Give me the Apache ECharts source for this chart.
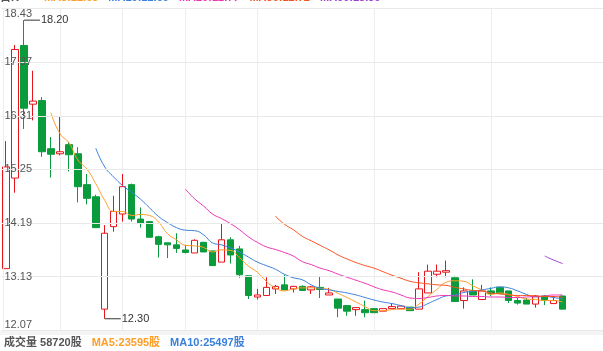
<!DOCTYPE html>
<html>
<head>
<meta charset="utf-8">
<script src="https://cdn.jsdelivr.net/npm/echarts@6/dist/echarts.min.js"></script>
<style>
  html, body { margin: 0; padding: 0; background: #fff; }
  #chart { width: 603px; height: 351px; }
</style>
</head>
<body>
<div id="chart"></div>
<script>
// day slots on the x axis (the last four are still empty)
const categories = ['1','2','3','4','5','6','7','8','9','10','11','12','13','14','15','16','17','18','19','20',
  '21','22','23','24','25','26','27','28','29','30','31','32','33','34','35','36','37','38','39','40',
  '41','42','43','44','45','46','47','48','49','50','51','52','53','54','55','56','57','58','59','60',
  '61','62','63','64','65','66','67'];

// [open, close, lowest, highest]
const ohlc = [
  [13.29, 15.30, 13.29, 15.81], [15.08, 17.62, 14.79, 17.71], [17.70, 16.46, 16.05, 18.20],
  [16.54, 16.60, 16.22, 17.20], [16.61, 15.60, 15.50, 16.68], [15.66, 15.55, 15.09, 15.89],
  [15.56, 15.60, 15.53, 16.29], [15.74, 15.54, 15.21, 15.79], [15.56, 14.91, 14.60, 15.69],
  [14.95, 14.68, 14.56, 15.16], [14.71, 14.10, 14.10, 14.75], [12.49, 13.99, 12.30, 14.15],
  [14.12, 14.42, 14.02, 14.73], [14.37, 14.91, 14.22, 15.16], [14.95, 14.27, 14.22, 14.97],
  [14.27, 14.19, 14.10, 14.50], [14.22, 13.91, 13.91, 14.22], [13.92, 13.77, 13.51, 13.94],
  [13.80, 13.76, 13.50, 13.80], [13.76, 13.69, 13.60, 13.99], [13.66, 13.61, 13.59, 13.76],
  [13.60, 13.85, 13.60, 13.87], [13.81, 13.62, 13.62, 13.82], [13.64, 13.35, 13.35, 13.64],
  [13.42, 13.86, 13.42, 14.19], [13.86, 13.56, 13.39, 13.91], [13.68, 13.17, 13.11, 13.74],
  [13.15, 12.76, 12.69, 13.15], [12.73, 12.77, 12.68, 12.89], [12.76, 12.92, 12.76, 13.12],
  [12.89, 12.94, 12.79, 12.97], [12.97, 12.87, 12.87, 13.17], [12.89, 12.94, 12.82, 12.95],
  [12.94, 12.86, 12.86, 12.96], [12.87, 12.93, 12.79, 12.95], [12.92, 12.88, 12.71, 13.14],
  [12.77, 12.81, 12.77, 12.91], [12.69, 12.51, 12.33, 12.69], [12.56, 12.45, 12.36, 12.56],
  [12.48, 12.52, 12.36, 12.53], [12.48, 12.42, 12.33, 12.66], [12.50, 12.42, 12.42, 12.50],
  [12.45, 12.50, 12.45, 12.50], [12.50, 12.54, 12.50, 12.61], [12.50, 12.55, 12.50, 12.55],
  [12.53, 12.46, 12.46, 12.53], [12.49, 12.89, 12.49, 13.22], [12.81, 13.24, 12.81, 13.37],
  [13.18, 13.24, 13.12, 13.37], [13.22, 13.25, 13.12, 13.45], [13.11, 12.64, 12.64, 13.15],
  [12.66, 12.85, 12.50, 12.92], [12.85, 12.77, 12.77, 13.08], [12.68, 12.85, 12.68, 12.97],
  [12.85, 12.80, 12.75, 12.92], [12.92, 12.80, 12.80, 12.93], [12.85, 12.66, 12.61, 12.85],
  [12.66, 12.61, 12.58, 12.72], [12.67, 12.59, 12.59, 12.71], [12.59, 12.75, 12.52, 12.77],
  [12.75, 12.67, 12.57, 12.77], [12.60, 12.66, 12.60, 12.75], [12.75, 12.49, 12.49, 12.75]
];

// moving averages, first value sits at day n+1
const ma5 = [16.37, 15.96, 15.78, 15.44, 15.26, 14.97, 14.64, 14.42, 14.42, 14.34, 14.36, 14.34, 14.21,
  13.98, 13.86, 13.75, 13.74, 13.71, 13.62, 13.66, 13.65, 13.51, 13.34, 13.22, 13.04, 12.91, 12.85,
  12.89, 12.91, 12.91, 12.90, 12.88, 12.80, 12.72, 12.63, 12.54, 12.46, 12.46, 12.48, 12.49, 12.49,
  12.59, 12.74, 12.88, 13.02, 13.05, 13.04, 12.95, 12.87, 12.78, 12.81, 12.78, 12.74, 12.69, 12.68,
  12.66, 12.66, 12.63];
const ma10 = [15.67, 15.30, 15.10, 14.93, 14.80, 14.66, 14.49, 14.32, 14.20, 14.10, 14.05, 14.04, 13.96,
  13.80, 13.76, 13.70, 13.62, 13.52, 13.42, 13.35, 13.28, 13.18, 13.11, 13.07, 12.97, 12.90, 12.87,
  12.84, 12.81, 12.77, 12.72, 12.67, 12.63, 12.60, 12.56, 12.52, 12.53, 12.60, 12.68, 12.75, 12.77,
  12.82, 12.84, 12.87, 12.90, 12.93, 12.91, 12.85, 12.78, 12.73, 12.74, 12.72, 12.69];
const ma20 = [14.86, 14.67, 14.53, 14.37, 14.28, 14.18, 14.06, 13.92, 13.81, 13.72, 13.67, 13.61, 13.54,
  13.43, 13.37, 13.30, 13.25, 13.18, 13.12, 13.06, 13.00, 12.93, 12.87, 12.83, 12.77, 12.71, 12.70,
  12.72, 12.75, 12.76, 12.75, 12.75, 12.74, 12.74, 12.73, 12.73, 12.72, 12.72, 12.73, 12.74, 12.75,
  12.77, 12.77];
const ma30 = [14.33, 14.17, 14.06, 13.93, 13.84, 13.75, 13.66, 13.56, 13.48, 13.41, 13.35, 13.30, 13.23,
  13.16, 13.10, 13.04, 13.01, 12.99, 12.97, 12.96, 12.92, 12.89, 12.86, 12.85, 12.81, 12.79, 12.77,
  12.76, 12.76, 12.75, 12.74, 12.74, 12.72];
const ma60 = [13.54, 13.46, 13.39];

const yTicks = [12.07, 13.13, 14.19, 15.25, 16.31, 17.37, 18.43];
const splitDays = [6, 13, 20, 28, 41, 54];

const volume = { last: 58720, ma5: 23595, ma10: 25497 };

const FONT = '"Liberation Sans", Arial, "Noto Sans CJK SC", sans-serif';
const C = {
  up: '#e8141b', down: '#0a9c3c',
  ma5: '#ff9d26', ma10: '#3a80dc', ma20: '#ee34b4', ma30: '#f8531f', ma60: '#9d3fce',
  text: '#555555', grid: '#e9e9e9'
};

// put '-' in front so each average starts on its own day
function lead(n, arr) {
  const out = [];
  for (let i = 0; i < n; i++) out.push('-');
  return out.concat(arr);
}

function maLine(name, data, n, color) {
  return {
    name: name,
    type: 'line',
    data: lead(n, data),
    smooth: true,
    symbol: 'none',
    lineStyle: { width: 1, color: color },
    itemStyle: { color: color },
    z: 3
  };
}

function rich(color) {
  return { color: color, fontSize: 11, fontFamily: FONT, lineHeight: 13 };
}

const last = (a) => a[a.length - 1].toFixed(2);

const chart = echarts.init(document.getElementById('chart'));

const option = {
  animation: false,
  title: [
    {
      left: 0, top: -11, padding: 0,
      text: '{g|日K}     {o|MA5:' + last(ma5) + '}  {b|MA10:' + last(ma10) + '}  {p|MA20:' + last(ma20) +
        '}  {r|MA30:' + last(ma30) + '}  {v|MA60:' + last(ma60) + '}',
      textStyle: {
        rich: { g: rich(C.text), o: rich(C.ma5), b: rich(C.ma10), p: rich(C.ma20), r: rich(C.ma30), v: rich(C.ma60) }
      }
    },
    {
      left: 4, top: 334, padding: 0,
      text: '{g|成交量 ' + volume.last + '股}  {o|MA5:' + volume.ma5 + '股}  {b|MA10:' + volume.ma10 + '股}',
      textStyle: { rich: { g: rich(C.text), o: rich(C.ma5), b: rich(C.ma10) } }
    }
  ],
  graphic: [
    {
      type: 'rect', silent: true, z: -10,
      shape: { x: 0, y: 331, width: 603, height: 4 },
      style: { fill: '#f4f4f4' }
    }
  ],
  grid: { left: 1.5, right: -1.5, top: 8.5, bottom: 20.6 },
  xAxis: {
    type: 'category',
    data: categories,
    boundaryGap: true,
    axisLine: { show: false },
    axisTick: { show: false },
    axisLabel: { show: false },
    splitLine: {
      show: true,
      alignWithLabel: true,
      interval: (i) => splitDays.indexOf(i) >= 0,
      lineStyle: { color: '#ededed', width: 1 }
    }
  },
  yAxis: {
    type: 'value',
    min: yTicks[0],
    max: yTicks[yTicks.length - 1],
    interval: 1.06,
    offset: -2,
    z: 10,
    axisLine: { show: true, lineStyle: { color: '#ededed' } },
    axisTick: { show: false },
    axisLabel: {
      inside: true,
      margin: 1,
      color: C.text,
      fontSize: 11,
      fontFamily: FONT,
      verticalAlignMinLabel: 'bottom',
      verticalAlignMaxLabel: 'top',
      formatter: (v) => v.toFixed(2)
    },
    splitLine: { lineStyle: { color: C.grid, width: 1 } }
  },
  series: [
    {
      name: 'K',
      type: 'candlestick',
      data: ohlc,
      barWidth: 7,
      itemStyle: {
        color: '#ffffff', color0: C.down,
        borderColor: C.up, borderColor0: C.down, borderWidth: 1
      },
      markPoint: {
        symbol: 'rect',
        symbolSize: [16, 1],
        symbolOffset: [8, 0],
        itemStyle: { color: '#333333' },
        label: {
          show: true, position: 'right', distance: 1,
          color: '#333333', fontSize: 11, fontFamily: FONT,
          formatter: (p) => p.value.toFixed(2)
        },
        data: [
          { type: 'max', valueDim: 'highest' },
          { type: 'min', valueDim: 'lowest' }
        ]
      },
      z: 2
    },
    maLine('MA5', ma5, 5, C.ma5),
    maLine('MA10', ma10, 10, C.ma10),
    maLine('MA20', ma20, 20, C.ma20),
    maLine('MA30', ma30, 30, C.ma30),
    maLine('MA60', ma60, 60, C.ma60)
  ]
};

chart.setOption(option);
</script>
</body>
</html>
